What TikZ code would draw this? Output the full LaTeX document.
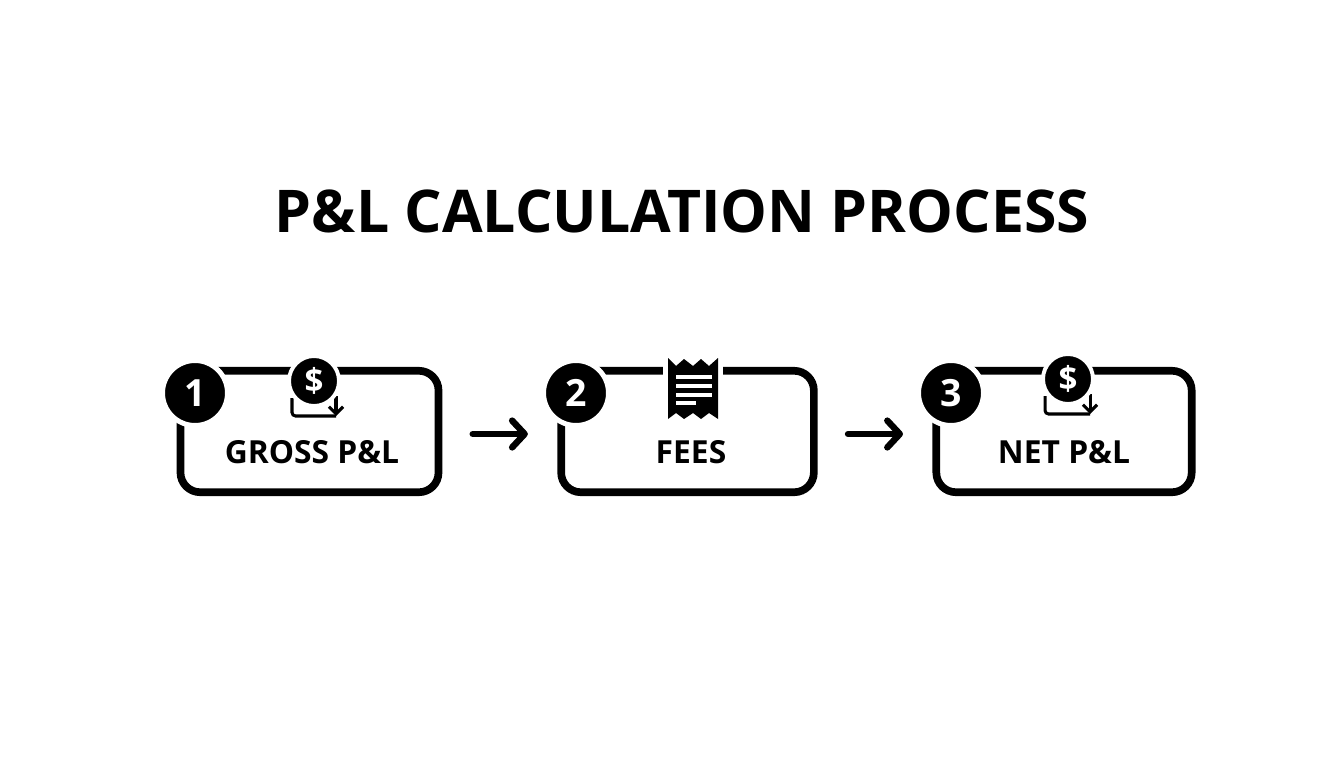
\documentclass[tikz,border=0pt]{standalone}
\usepackage{fontspec}
\setmainfont{Open Sans}
\usetikzlibrary{arrows.meta}

\tikzset{
  stepbox/.style={draw=black,line width=4.3pt,rounded corners=11pt,minimum height=68pt,inner sep=0pt},
  badge/.style={circle,fill=black,draw=white,line width=2.8pt,minimum size=36.4pt,inner sep=0pt,text=white,font=\fontsize{21}{21}\selectfont\bfseries},
  coin/.style={circle,fill=black,draw=white,line width=2.2pt,minimum size=28pt,inner sep=0pt,text=white,font=\fontsize{18.5}{18.5}\selectfont\bfseries},
  boxlabel/.style={inner sep=0pt,font=\fontsize{17.8}{17.8}\selectfont\bfseries},
  tray/.style={draw=black,line width=1.7pt,rounded corners=2pt},
  flowline/.style={draw=black,line width=3.6pt,line cap=round,-{Straight Barb[round,length=7pt,width=15pt,line width=3.6pt]}},
}

\begin{document}
\begin{tikzpicture}[x=0.56pt,y=0.56pt,yscale=-1,xscale=1]
  \useasboundingbox (0,0) rectangle (1344,768);

  % Title
  \draw (682,211) node [inner sep=0pt,font=\fontsize{33}{33}\selectfont\bfseries] (title) {P\&L CALCULATION PROCESS};

  % Boxes
  \draw (309.5,431.5) node [stepbox,minimum width=144.5pt] (gross) {};
  \draw (687.5,431.5) node [stepbox,minimum width=141.5pt] (fees) {};
  \draw (1064,431.5) node [stepbox,minimum width=143pt] (net) {};

  % Box labels
  \draw (312,452) node [boxlabel] (grosslabel) {GROSS P\&L};
  \draw (691,452) node [boxlabel] (feeslabel) {FEES};
  \draw (1064,452) node [boxlabel] (netlabel) {NET P\&L};

  % Arrows
  \draw [flowline,shorten <=17pt,shorten >=16.5pt] ([yshift=1.4pt]gross.east) -- ([yshift=1.4pt]fees.west);
  \draw [flowline,shorten <=17pt,shorten >=16.5pt] ([yshift=1.4pt]fees.east) -- ([yshift=1.4pt]net.west);

  % Tray 1
  \draw [tray] (292,398) -- (292,416) -- (336,416);
  \draw [tray,-{Straight Barb[length=4pt,width=8pt]}] (336,396) -- (336,416);
  % Tray 3
  \draw [tray] (1045,396) -- (1045,414) -- (1090,414);
  \draw [tray,-{Straight Barb[length=4pt,width=8pt]}] (1090,394) -- (1090,414);

  % Coins
  \draw (314,381) node [coin] (coingross) {\$};
  \draw (1068,379) node [coin] (coinnet) {\$};

  % Receipt
  \draw [draw=white,line width=6pt,fill=white] (668,360) rectangle (718,418);
  \fill (668,358) -- (676,366) -- (684,359) -- (693,366) -- (701,359) -- (709,366) -- (718,358) -- (718,419) -- (709,413) -- (701,419) -- (693,413) -- (684,419) -- (676,413) -- (668,419) -- cycle;
  \foreach \y/\xend in {377/712,386/712,395/712,403/696}
    \draw [white,line width=1.9pt] (676,\y) -- (\xend,\y);

  % Badges
  \draw (195,393) node [badge] (badgegross) {1};
  \draw (576,393) node [badge] (badgefees) {2};
  \draw (951,393) node [badge] (badgenet) {3};
\end{tikzpicture}
\end{document}
